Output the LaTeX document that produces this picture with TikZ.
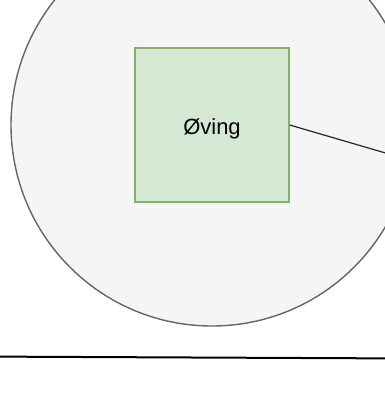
\documentclass[tikz,border=0pt]{standalone}
\usepackage{fontspec}
\setmainfont{Liberation Sans}
\definecolor{ringfill}{HTML}{F5F5F5}
\definecolor{ringline}{HTML}{666666}
\definecolor{boxfill}{HTML}{D5E8D4}
\definecolor{boxline}{HTML}{82B366}
\begin{document}
\begin{tikzpicture}[x=1pt,y=-1pt,
  ring/.style={circle,draw=ringline,fill=ringfill,line width=1.4pt,minimum size=402pt,inner sep=0pt},
  taskbox/.style={rectangle,draw=boxline,fill=boxfill,line width=1.4pt,minimum size=154pt,inner sep=0pt},
  tasklabel/.style={inner sep=0pt,font=\fontsize{22}{26}\selectfont},
  link/.style={draw=black!85,line width=1.2pt},
  rule/.style={draw=black,line width=2pt}]
\useasboundingbox (0,0) rectangle (385,394);
\clip (0,0) rectangle (385,394);
\node[ring] (area) at (212,125) {};
\node[taskbox] (task) at (212,125) {};
\node[tasklabel] (tasktext) at (212,129) {Øving};
\coordinate (linkend) at (430,166);
\draw[link] (task.east) -- (linkend);
\coordinate (ruleL) at (-5,356.6);
\coordinate (ruleR) at (390,358.4);
\draw[rule] (ruleL) -- (ruleR);
\end{tikzpicture}
\end{document}
